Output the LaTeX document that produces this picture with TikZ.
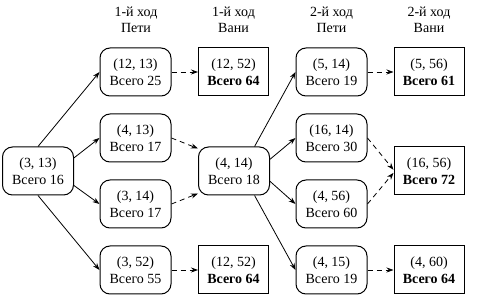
\documentclass[tikz,border=0pt]{standalone}
\usepackage{fontspec}
\setmainfont{Liberation Serif}
\usetikzlibrary{arrows.meta}

\begin{document}
\begin{tikzpicture}[x=1pt, y=-1pt, >=Stealth,
  font=\fontsize{14}{17}\selectfont,
  every node/.style={align=center},
  headNode/.style={inner sep=0pt, font=\fontsize{14}{16}\selectfont},
  petyaNode/.style={draw, rounded corners=10pt, minimum width=71pt, minimum height=48pt, inner sep=0pt, line width=1pt},
  vanyaNode/.style={draw, minimum width=70pt, minimum height=48pt, inner sep=0pt, line width=1pt},
  moveArrow/.style={draw, line width=0.8pt, -{Stealth[length=7pt, width=5pt]}},
  replyArrow/.style={moveArrow, dash pattern=on 5pt off 4pt}]
  \useasboundingbox (0,0) rectangle (491,299);

  \node[headNode] (head1) at (136,19.5) {1-й ход\\Пети};
  \node[headNode] (head2) at (233.5,19.5) {1-й ход\\Вани};
  \node[headNode] (head3) at (331.5,19.5) {2-й ход\\Пети};
  \node[headNode] (head4) at (429,19.5) {2-й ход\\Вани};

  \node[petyaNode] (start) at (38,171) {(3, 13)\\Всего 16};

  \node[petyaNode] (petA) at (135.5,72) {(12, 13)\\Всего 25};
  \node[petyaNode] (petB) at (135.5,138) {(4, 13)\\Всего 17};
  \node[petyaNode] (petC) at (135.5,204) {(3, 14)\\Всего 17};
  \node[petyaNode] (petD) at (135.5,270) {(3, 52)\\Всего 55};

  \node[vanyaNode] (vanA) at (233.5,72) {(12, 52)\\\textbf{Всего 64}};
  \node[petyaNode] (mid) at (234,171) {(4, 14)\\Всего 18};
  \node[vanyaNode] (vanD) at (233.5,270) {(12, 52)\\\textbf{Всего 64}};

  \node[petyaNode] (petE) at (331.5,72) {(5, 14)\\Всего 19};
  \node[petyaNode] (petF) at (331.5,138) {(16, 14)\\Всего 30};
  \node[petyaNode] (petG) at (331.5,204) {(4, 56)\\Всего 60};
  \node[petyaNode] (petH) at (331.5,270) {(4, 15)\\Всего 19};

  \node[vanyaNode] (vanE) at (429,72) {(5, 56)\\\textbf{Всего 61}};
  \node[vanyaNode] (vanF) at (429,171) {(16, 56)\\\textbf{Всего 72}};
  \node[vanyaNode] (vanH) at (429,270) {(4, 60)\\\textbf{Всего 64}};

  \draw[moveArrow] (start.north) -- (petA.west);
  \draw[moveArrow] (start.20) -- (petB.west);
  \draw[moveArrow] (start.-22) -- (petC.west);
  \draw[moveArrow] (start.south) -- (petD.west);

  \draw[replyArrow] (petA.east) -- (vanA.west);
  \draw[replyArrow] (petB.east) -- (mid.148);
  \draw[replyArrow] (petC.east) -- (mid.212);
  \draw[replyArrow] (petD.east) -- (vanD.west);

  \draw[moveArrow] (mid.50) -- (petE.west);
  \draw[moveArrow] (mid.18) -- (petF.west);
  \draw[moveArrow] (mid.-16) -- (petG.west);
  \draw[moveArrow] (mid.-50) -- (petH.west);

  \draw[replyArrow] (petE.east) -- (vanE.west);
  \draw[replyArrow] (petF.east) -- (vanF.178);
  \draw[replyArrow] (petG.east) -- (vanF.183);
  \draw[replyArrow] (petH.east) -- (vanH.west);
\end{tikzpicture}
\end{document}
